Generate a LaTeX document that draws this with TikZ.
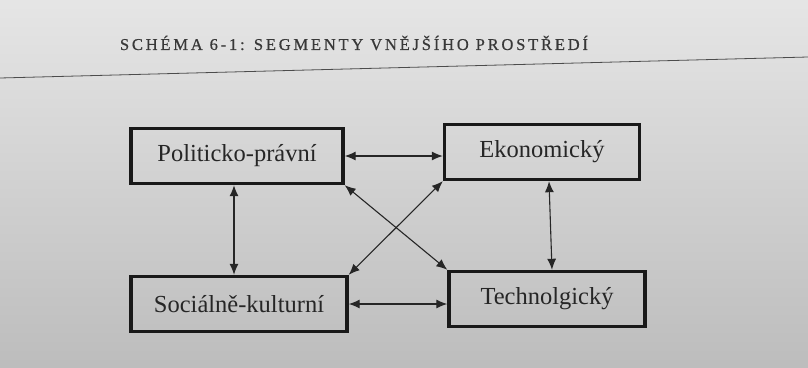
\documentclass[tikz,border=0pt]{standalone}
\usepackage{fontspec}
\setmainfont{Liberation Serif}
\usetikzlibrary{arrows.meta}
\begin{document}
\begin{tikzpicture}[x=1pt,y=-1pt,
  seg/.style={draw=black!90, line width=3.4pt, minimum height=55pt, inner sep=0pt, font=\fontsize{24.5}{26}\selectfont, text=black!85},
  link/.style={draw=black!85, line width=1.1pt, {Latex[length=11pt,width=9pt]}-{Latex[length=11pt,width=9pt]}}]
\shade[top color=black!10, bottom color=black!26] (0,0) rectangle (808,367);
\useasboundingbox (0,0) rectangle (808,367);
\node[font=\fontsize{16.5}{18}\selectfont\addfontfeature{LetterSpace=17,FakeBold=0.6}, text=black!78] (title) at (354,43) {SCHÉMA 6-1: SEGMENTY VNĚJŠÍHO PROSTŘEDÍ};
\coordinate (la) at (0,78);
\coordinate (lb) at (808,57);
\draw[black!70, line width=0.8pt] (la) -- (lb);
\node[seg, minimum width=212pt] (pp) at (237,156) {Politicko-právní};
\node[seg, minimum width=195pt] (ek) at (542,152) {Ekonomický};
\node[seg, minimum width=216pt] (sk) at (239,304) {Sociálně-kulturní};
\node[seg, minimum width=196pt] (te) at (547,299) {Technolgický};
\draw[link] (pp.east) -- (ek.west |- pp.east);
\draw[link] (sk.east) -- (te.west |- sk.east);
\draw[link] (pp.south -| 234,0) -- (sk.north -| 234,0);
\draw[link] (ek.south -| 549,0) -- (te.north -| 552,0);
\draw[link] (pp.south east) -- (te.north west);
\draw[link] (sk.north east) -- (ek.south west);
\end{tikzpicture}
\end{document}
